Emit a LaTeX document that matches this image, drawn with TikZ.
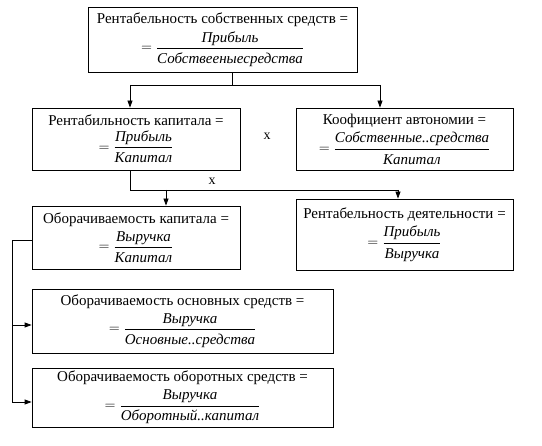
\documentclass[tikz,border=0pt]{standalone}
\usepackage{fontspec}
\usepackage{amsmath}
\setmainfont{Liberation Serif}
\usetikzlibrary{arrows.meta}
\tikzset{
  box/.style={draw, line width=0.8pt, align=center, inner sep=1pt, font=\fontsize{15}{16}\selectfont},
  arr/.style={-{Triangle[length=7pt,width=5pt]}},
}
\newcommand{\kfrac}[2]{$=\dfrac{\textit{#1}\rule[-3pt]{0pt}{12pt}}{\textit{#2}\rule{0pt}{13pt}}$}

\begin{document}
\begin{tikzpicture}[x=1pt,y=-1pt,line width=0.8pt]
  \useasboundingbox (0,0) rectangle (542,446);
  % boxes
  \node[box,minimum width=269,minimum height=65] (rse) at (222.5,39.5)
    {Рентабельность собственных средств =\\[4pt] \kfrac{Прибыль}{Собствееныесредства}};
  \node[box,minimum width=208,minimum height=62] (rk) at (136,139)
    {Рентабильность капитала =\\[4pt] \kfrac{Прибыль}{Капитал}};
  \node[box,minimum width=217,minimum height=62] (ka) at (404.5,139)
    {Коофициент автономии =\\[4pt] \kfrac{Собственные..средства}{Капитал}};
  \node[box,minimum width=208,minimum height=63] (ok) at (136,237.5)
    {Оборачиваемость капитала =\\[4pt] \kfrac{Выручка}{Капитал}};
  \node[box,minimum width=217,minimum height=71] (rd) at (404.5,234.5)
    {Рентабельность деятельности =\\[4pt] \kfrac{Прибыль}{Выручка}};
  \node[box,minimum width=301,minimum height=64] (oos) at (182.5,321)
    {Оборачиваемость основных средств =\\[4pt] \kfrac{Выручка}{Основные..средства}};
  \node[box,minimum width=301,minimum height=59] (oob) at (182.5,397.5)
    {Оборачиваемость оборотных средств =\\[4pt] \kfrac{Выручка}{Оборотный..капитал}};
  \node[font=\fontsize{14}{15}\selectfont] (x1) at (267,136) {x};
  \node[font=\fontsize{14}{15}\selectfont] (x2) at (212,181) {x};
  % connectors
  \coordinate (t1) at (232,85);
  \coordinate (t2) at (130,85);
  \coordinate (t3) at (380,85);
  \draw (rse.south -| t1) -- (t1);
  \draw (t2) -- (t3);
  \draw[arr] (t2) -- (t2 |- rk.north);
  \draw[arr] (t3) -- (t3 |- ka.north);
  \coordinate (m1) at (130,190);
  \coordinate (m2) at (398,190);
  \coordinate (m3) at (166,190);
  \draw (m1 |- rk.south) -- (m1) -- (m2);
  \draw[arr] (m2) -- (m2 |- rd.north);
  \draw[arr] (m3) -- (m3 |- ok.north);
  \coordinate (l1) at (12,240);
  \coordinate (l2) at (12,325);
  \coordinate (l3) at (12,402);
  \draw (ok.west |- l1) -- (l1) -- (l3);
  \draw[arr] (l2) -- (l2 -| oos.west);
  \draw[arr] (l3) -- (l3 -| oob.west);
\end{tikzpicture}
\end{document}
